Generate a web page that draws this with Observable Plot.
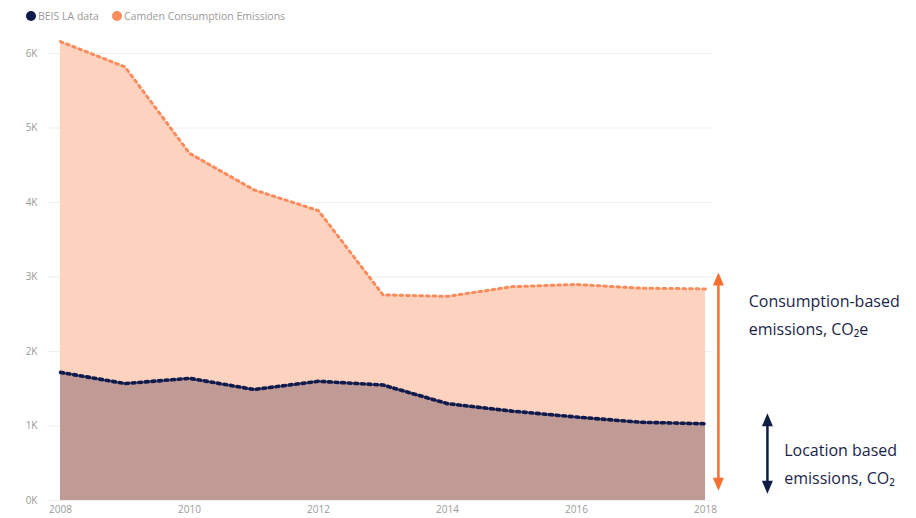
<!DOCTYPE html>
<html>
<head>
<meta charset="utf-8">
<script src="https://cdn.jsdelivr.net/npm/d3@7"></script>
<script src="https://cdn.jsdelivr.net/npm/@observablehq/plot@0.6"></script>
<style>
  body { margin: 0; background: #fff; font-family: "Open Sans", sans-serif; }
  #legend { height: 30px; position: relative; font-size: 10.5px; color: #9a9a9a; }
  #legend span.item { position: absolute; top: 9px; display: flex; align-items: center; white-space: nowrap; }
  #legend span.sw { width: 10px; height: 10px; border-radius: 50%; display: inline-block; margin-right: 2px; }
</style>
</head>
<body>
<div id="legend"></div>
<div id="chart"></div>
<script>
const years = [2008, 2009, 2010, 2011, 2012, 2013, 2014, 2015, 2016, 2017, 2018];
const beisValues = [1720, 1570, 1640, 1490, 1600, 1550, 1300, 1200, 1120, 1050, 1030];
const camdenValues = [6160, 5820, 4660, 4170, 3890, 2760, 2740, 2870, 2900, 2850, 2840];
const seriesNames = ["BEIS LA data", "Camden Consumption Emissions"];
const seriesColors = ["#0f1a4d", "#f98c5c"];
const yTicks = [0, 1000, 2000, 3000, 4000, 5000, 6000];
const xTicks = [2008, 2010, 2012, 2014, 2016, 2018];
const annotationLabels = ["Consumption-based\nemissions, CO\u2082e", "Location based\nemissions, CO\u2082"];

const beis = years.map((y, i) => ({year: y, value: beisValues[i]}));
const camden = years.map((y, i) => ({year: y, value: camdenValues[i]}));

// legend
const legend = document.getElementById("legend");
const legendX = [26, 112];
seriesNames.forEach((n, i) => {
  const s = document.createElement("span");
  s.className = "item";
  s.style.left = legendX[i] + "px";
  s.innerHTML = `<span class="sw" style="background:${seriesColors[i]}"></span>${n}`;
  legend.appendChild(s);
});

const upHead = {draw(ctx) { ctx.moveTo(0, 0); ctx.lineTo(-5.5, 13); ctx.lineTo(5.5, 13); ctx.closePath(); }};
const downHead = {draw(ctx) { ctx.moveTo(0, 0); ctx.lineTo(-5.5, -13); ctx.lineTo(5.5, -13); ctx.closePath(); }};

const orangeArrow = [{x: 2018.2, y1: 3060, y2: 130}];
const navyArrow = [{x: 2018.96, y1: 1170, y2: 90}];

const curve = "linear";
const chart = Plot.plot({
  width: 916,
  height: 488,
  marginLeft: 60,
  marginRight: 211,
  marginTop: 23,
  marginBottom: 18,
  style: {fontFamily: "Open Sans, sans-serif", background: "#fff", overflow: "visible"},
  x: {domain: [2008, 2018], ticks: xTicks, tickFormat: d => String(d), tickSize: 0, tickPadding: 4, label: null},
  y: {domain: [0, 6000], ticks: yTicks, tickFormat: d => d / 1000 + "K", tickSize: 0, tickPadding: 23, label: null},
  marks: [
    Plot.ruleY(yTicks, {x1: 2007.81, x2: 2018.1, stroke: "#eeeeee", strokeWidth: 1}),
    Plot.areaY(camden, {x: "year", y: "value", fill: "#fdd3bf", curve}),
    Plot.areaY(beis, {x: "year", y: "value", fill: "#c09a94", curve}),
    Plot.lineY(camden, {x: "year", y: "value", stroke: seriesColors[1], strokeWidth: 3, strokeDasharray: "2.6 4", strokeLinejoin: "round", curve}),
    Plot.lineY(beis, {x: "year", y: "value", stroke: seriesColors[0], strokeWidth: 3.6, strokeDasharray: "3 3.6", strokeLinejoin: "round", curve}),
    Plot.axisX({ticks: xTicks, tickFormat: d => String(d), tickSize: 0, tickPadding: 5, fill: "#9a9a9a", fontSize: 10, label: null}),
    Plot.axisY({ticks: yTicks, tickFormat: d => d / 1000 + "K", tickSize: 0, tickPadding: 23, fill: "#9a9a9a", fontSize: 10, label: null}),
    // annotation arrows
    Plot.ruleX(orangeArrow, {x: "x", y1: d => d.y1 - 150, y2: d => d.y2 + 150, stroke: "#f86d31", strokeWidth: 2.5}),
    Plot.dot(orangeArrow, {x: "x", y: "y1", symbol: upHead, fill: "#f86d31", stroke: "none", r: 1}),
    Plot.dot(orangeArrow, {x: "x", y: "y2", symbol: downHead, fill: "#f86d31", stroke: "none", r: 1}),
    Plot.ruleX(navyArrow, {x: "x", y1: d => d.y1 - 150, y2: d => d.y2 + 150, stroke: "#0f1d45", strokeWidth: 2.5}),
    Plot.dot(navyArrow, {x: "x", y: "y1", symbol: upHead, fill: "#0f1d45", stroke: "none", r: 1}),
    Plot.dot(navyArrow, {x: "x", y: "y2", symbol: downHead, fill: "#0f1d45", stroke: "none", r: 1}),
    Plot.text([annotationLabels[0]], {x: 2018.67, y: 2530, text: d => d, textAnchor: "start", lineAnchor: "middle", lineHeight: 1.75, fontSize: 16, fill: "#1c1f4a"}),
    Plot.text([annotationLabels[1]], {x: 2019.22, y: 530, text: d => d, textAnchor: "start", lineAnchor: "middle", lineHeight: 1.75, fontSize: 16, fill: "#1c1f4a"})
  ]
});
document.getElementById("chart").appendChild(chart);
</script>
</body>
</html>
